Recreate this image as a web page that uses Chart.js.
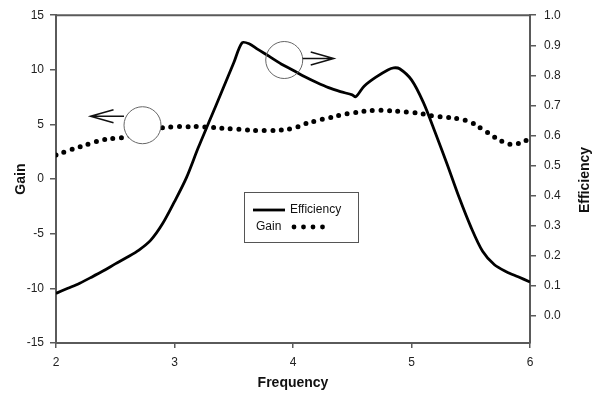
<!DOCTYPE html>
<html>
<head>
<meta charset="utf-8">
<script src="https://cdn.jsdelivr.net/npm/chart.js@4.4.1/dist/chart.umd.min.js"></script>
<style>
  body { margin: 0; background: #fff; }
  #wrap { width: 604px; height: 405px; position: relative; }
</style>
</head>
<body>
<div id="wrap"><canvas id="myChart"></canvas></div>
<script>
// gain curve (left axis), read every 0.1 GHz
const gainFreq = [2.0, 2.1, 2.2, 2.3, 2.4, 2.5, 2.6, 2.7, 2.8, 2.9, 3.0, 3.1, 3.2, 3.3, 3.4, 3.5, 3.6, 3.7, 3.8, 3.9,
    4.0, 4.1, 4.2, 4.3, 4.4, 4.5, 4.6, 4.7, 4.8, 4.9, 5.0, 5.1, 5.2, 5.3, 5.4, 5.5, 5.6, 5.7, 5.8, 5.86, 5.9, 6.0];
const gainValues = [2.2, 2.6, 2.95, 3.3, 3.6, 3.75, 3.85, 4.3, 4.55, 4.7, 4.8, 4.8, 4.8, 4.75, 4.65, 4.6, 4.5, 4.45, 4.45, 4.5,
    4.65, 5.05, 5.35, 5.6, 5.85, 6.05, 6.2, 6.3, 6.27, 6.2, 6.1, 5.95, 5.75, 5.65, 5.5, 5.2, 4.55, 3.85, 3.27, 3.17, 3.25, 3.68];

// efficiency curve (right axis)
const effFreq = [2.0, 2.1, 2.2, 2.3, 2.4, 2.5, 2.6, 2.7, 2.8, 2.9, 3.0, 3.1, 3.2, 3.3, 3.4, 3.5, 3.57, 3.63, 3.7, 3.8,
    3.9, 4.0, 4.1, 4.2, 4.3, 4.4, 4.5, 4.53, 4.6, 4.7, 4.8, 4.85, 4.9, 5.0, 5.1, 5.2, 5.3, 5.4, 5.5, 5.6, 5.7, 5.8, 5.9, 6.0];
const effValues = [0.075, 0.092, 0.109, 0.129, 0.150, 0.173, 0.195, 0.219, 0.252, 0.307, 0.38, 0.459, 0.559, 0.653, 0.747, 0.842, 0.908, 0.905, 0.887, 0.863,
    0.838, 0.817, 0.795, 0.776, 0.759, 0.746, 0.735, 0.729, 0.764, 0.794, 0.818, 0.825, 0.822, 0.785, 0.71, 0.61, 0.505, 0.396, 0.297, 0.215, 0.17, 0.147, 0.13, 0.113];

const effTicks = [0.0, 0.1, 0.2, 0.3, 0.4, 0.5, 0.6, 0.7, 0.8, 0.9, 1.0];

const FONT = "'Liberation Sans', Arial, sans-serif";
const axisGray = '#5a5a5a';

const decor = {
    id: 'decor',
    afterDatasetsDraw(chart) {
        const { ctx, chartArea: a, scales } = chart;
        const x = scales.x, y = scales.y, y1 = scales.y1;
        ctx.save();
        // top frame line
        ctx.strokeStyle = axisGray;
        ctx.lineWidth = 2;
        ctx.beginPath();
        ctx.moveTo(a.left, a.top);
        ctx.lineTo(a.right, a.top);
        ctx.stroke();

        const r = 18.5;
        // circle on the gain curve, arrow pointing to the left axis
        const c1x = x.getPixelForValue(2.73), c1y = y.getPixelForValue(4.93);
        ctx.fillStyle = '#fff';
        ctx.strokeStyle = '#666';
        ctx.lineWidth = 1;
        ctx.beginPath();
        ctx.arc(c1x, c1y, r, 0, Math.PI * 2);
        ctx.fill();
        ctx.stroke();
        ctx.strokeStyle = '#111';
        ctx.lineWidth = 1.5;
        let ay = c1y - 9, tip = c1x - 52;
        ctx.beginPath();
        ctx.moveTo(c1x - r, ay); ctx.lineTo(tip, ay);
        ctx.moveTo(tip + 23, ay - 6.5); ctx.lineTo(tip, ay); ctx.lineTo(tip + 23, ay + 6.5);
        ctx.stroke();

        // circle on the efficiency curve, arrow pointing to the right axis
        const c2x = x.getPixelForValue(3.926), c2y = y1.getPixelForValue(0.851);
        ctx.strokeStyle = '#666';
        ctx.lineWidth = 1;
        ctx.beginPath();
        ctx.arc(c2x, c2y, r, 0, Math.PI * 2);
        ctx.stroke();
        ctx.strokeStyle = '#111';
        ctx.lineWidth = 1.5;
        ay = c2y - 1.5; tip = c2x + 49.5;
        ctx.beginPath();
        ctx.moveTo(c2x + r, ay); ctx.lineTo(tip, ay);
        ctx.moveTo(tip - 23, ay - 6.5); ctx.lineTo(tip, ay); ctx.lineTo(tip - 23, ay + 6.5);
        ctx.stroke();
        ctx.restore();
    },
    afterDraw(chart) {
        const ctx = chart.ctx;
        ctx.save();
        // legend box
        ctx.strokeStyle = '#555';
        ctx.lineWidth = 1;
        ctx.strokeRect(244.5, 192.5, 114, 50);
        ctx.strokeStyle = '#000';
        ctx.lineWidth = 2.8;
        ctx.beginPath();
        ctx.moveTo(253, 210); ctx.lineTo(285, 210);
        ctx.stroke();
        ctx.fillStyle = '#111';
        ctx.font = '12px ' + FONT;
        ctx.textBaseline = 'middle';
        ctx.textAlign = 'left';
        ctx.fillText('Efficiency', 290, 210);
        ctx.fillText('Gain', 256, 227);
        ctx.fillStyle = '#000';
        [294, 303.5, 313, 322.5].forEach(px => {
            ctx.beginPath();
            ctx.arc(px, 227, 2.4, 0, Math.PI * 2);
            ctx.fill();
        });
        // right axis title, reads bottom to top like the left one
        ctx.fillStyle = '#111';
        ctx.font = 'bold 14px ' + FONT;
        ctx.textAlign = 'center';
        ctx.translate(585, 180);
        ctx.rotate(-Math.PI / 2);
        ctx.fillText('Efficiency', 0, 0);
        ctx.restore();
    }
};

const tickFont = { family: FONT, size: 12 };
const titleFont = { family: FONT, size: 14, weight: 'bold' };

var ctx = document.getElementById('myChart').getContext('2d');
var chart = new Chart(ctx, {
    type: 'line',
    data: {
        datasets: [{
            label: 'Gain',
            data: gainFreq.map((f, i) => ({ x: f, y: gainValues[i] })),
            yAxisID: 'y',
            borderColor: '#000',
            borderWidth: 5,
            borderDash: [0, 8.5],
            borderCapStyle: 'round',
            pointRadius: 0,
            tension: 0.4,
            fill: false
        }, {
            label: 'Efficiency',
            data: effFreq.map((f, i) => ({ x: f, y: effValues[i] })),
            yAxisID: 'y1',
            borderColor: '#000',
            borderWidth: 2.8,
            borderJoinStyle: 'round',
            pointRadius: 0,
            tension: 0.3,
            fill: false
        }]
    },
    options: {
        responsive: true,
        maintainAspectRatio: false,
        animation: false,
        events: [],
        layout: { padding: { top: 13, left: 0, right: 0, bottom: 0 } },
        plugins: { legend: { display: false }, tooltip: { enabled: false } },
        scales: {
            x: {
                type: 'linear',
                position: 'bottom',
                min: 2, max: 6,
                ticks: { stepSize: 1, font: tickFont, color: '#222', padding: 7 },
                grid: { drawOnChartArea: false, tickLength: 5, color: axisGray, lineWidth: 1.5 },
                border: { color: axisGray, width: 2 },
                title: { display: true, text: 'Frequency', font: titleFont, color: '#111', padding: { top: 0, bottom: 13 } },
                afterFit: (scale) => { scale.height = 62; }
            },
            y: {
                position: 'left',
                min: -15, max: 15,
                ticks: { stepSize: 5, font: tickFont, color: '#222', padding: 6 },
                grid: { drawOnChartArea: false, tickLength: 6, color: axisGray, lineWidth: 1.5 },
                border: { color: axisGray, width: 2 },
                title: { display: true, text: 'Gain', font: titleFont, color: '#111', padding: { top: 13, bottom: 0 } },
                afterFit: (scale) => { scale.width = 56; }
            },
            y1: {
                position: 'right',
                min: -0.09, max: 1.0,
                afterBuildTicks: (scale) => { scale.ticks = effTicks.map(v => ({ value: v })); },
                ticks: { font: tickFont, color: '#222', padding: 8, callback: (v) => v.toFixed(1) },
                grid: { drawOnChartArea: false, tickLength: 6, color: axisGray, lineWidth: 1.5 },
                border: { color: axisGray, width: 2 },
                afterFit: (scale) => { scale.width = 74; }
            }
        }
    },
    plugins: [decor]
});
</script>
</body>
</html>
